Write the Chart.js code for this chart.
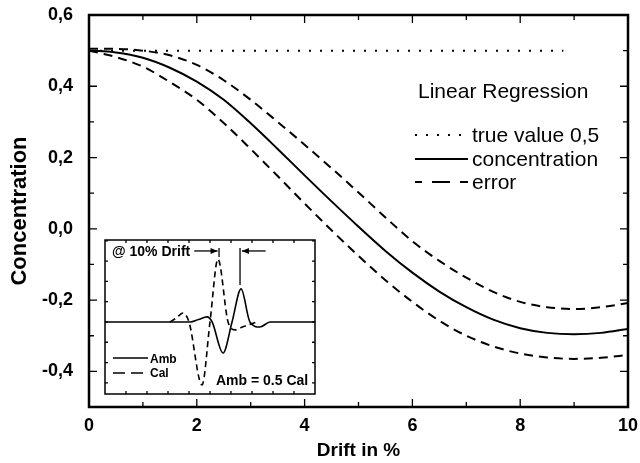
<!DOCTYPE html>
<html lang="en">
<head>
    <meta charset="UTF-8">
    <title>Concentration vs drift</title>
    <script src="https://cdn.jsdelivr.net/npm/chart.js@4.4.1/dist/chart.umd.min.js"></script>
    <style>
        body { margin: 0; background: #fff; }
        #wrap { position: relative; width: 640px; height: 463px; }
        #inset { position: absolute; left: 104px; top: 239px; background: #fff; }
    </style>
</head>
<body>
<div id="wrap">
    <canvas id="myChart" width="640" height="463"></canvas>
    <canvas id="inset" width="212" height="156"></canvas>
</div>
<script>

    // main plot: drift in % vs concentration
    const drift = [0, 0.5, 1, 1.5, 2, 2.5, 3, 3.5, 4, 4.5, 5, 5.5, 6, 6.5, 7, 7.5, 8, 8.5, 9, 9.5, 10];
    const concentration = [0.500, 0.495, 0.480, 0.452, 0.413, 0.362, 0.296, 0.224, 0.150, 0.077, 0.006,
        -0.062, -0.123, -0.176, -0.220, -0.255, -0.279, -0.292, -0.296, -0.292, -0.281];
    const errorUpper = [0.505, 0.505, 0.500, 0.487, 0.460, 0.417, 0.362, 0.300, 0.236, 0.170, 0.102,
        0.032, -0.035, -0.090, -0.137, -0.177, -0.205, -0.220, -0.225, -0.220, -0.208];
    const errorLower = [0.500, 0.482, 0.455, 0.412, 0.362, 0.297, 0.224, 0.148, 0.071, -0.004, -0.076,
        -0.144, -0.205, -0.258, -0.300, -0.330, -0.350, -0.361, -0.365, -0.362, -0.354];
    const trueX = [0, 8.8];
    const trueY = [0.5, 0.5];

    const xTicks = [0, 2, 4, 6, 8, 10];
    const yTicks = [-0.4, -0.2, 0, 0.2, 0.4, 0.6];

    // inset: peak shapes
    const ambX = [0, 40.5, 44.5, 48.6, 51, 56.2, 60.5, 64.8, 69, 73.8, 78.6, 100];
    const ambY = [0, 0, 0.12, 0.25, 0, -1.53, 0, 1.63, 0, -0.25, 0, 0];
    const calX = [31, 34, 37.1, 40, 46.2, 50, 53.8, 58.6, 61.9, 66, 72.4];
    const calY = [0, 0.2, 0.44, 0, -3.1, 0, 3.1, 0, -0.39, -0.22, 0];

    const FONT = "'Liberation Sans', Arial, sans-serif";
    Chart.defaults.font.family = FONT;
    Chart.defaults.color = "#000";

    const pts = (xs, ys) => xs.map((x, i) => ({x: x, y: ys[i]}));

    function frameAndTicks(chart, xMinor, yMinor, majLen, minLen, xMajor, yMajor, lw) {
        const {ctx, chartArea: a, scales: {x, y}} = chart;
        ctx.save();
        ctx.strokeStyle = "#000";
        ctx.lineWidth = 1.3;
        xMinor.forEach(v => {
            const px = x.getPixelForValue(v);
            const len = xMajor(v) ? majLen : minLen;
            ctx.beginPath();
            ctx.moveTo(px, a.bottom); ctx.lineTo(px, a.bottom - len);
            ctx.moveTo(px, a.top); ctx.lineTo(px, a.top + len);
            ctx.stroke();
        });
        yMinor.forEach(v => {
            const py = y.getPixelForValue(v);
            const len = yMajor(v) ? majLen : minLen;
            ctx.beginPath();
            ctx.moveTo(a.left, py); ctx.lineTo(a.left + len, py);
            ctx.moveTo(a.right, py); ctx.lineTo(a.right - len, py);
            ctx.stroke();
        });
        ctx.lineWidth = lw;
        ctx.strokeRect(a.left, a.top, a.right - a.left, a.bottom - a.top);
        ctx.restore();
    }

    const mainDeco = {
        id: "mainDeco",
        afterDraw(chart) {
            const ctx = chart.ctx;
            const xm = [], ym = [];
            for (let i = 0; i <= 10; i++) xm.push(i);
            for (let i = -5; i <= 6; i++) ym.push(i / 10);
            frameAndTicks(chart, xm, ym, 8, 5, v => v % 2 === 0, v => Math.round(v * 10) % 2 === 0, 2.5);

            // legend block
            ctx.save();
            ctx.fillStyle = "#000";
            ctx.textBaseline = "middle";
            ctx.font = "21px " + FONT;
            ctx.fillText("Linear Regression", 418, 92);
            const rows = [
                {y: 135, dash: [2, 9], off: 0, text: "true value 0,5"},
                {y: 159, dash: [], off: 0, text: "concentration"},
                {y: 182, dash: [18, 10], off: 11, text: "error"}
            ];
            rows.forEach(r => {
                ctx.beginPath();
                ctx.lineWidth = 2;
                ctx.setLineDash(r.dash);
                ctx.lineDashOffset = r.off;
                ctx.moveTo(415, r.y); ctx.lineTo(468, r.y);
                ctx.stroke();
                ctx.setLineDash([]);
                ctx.fillText(r.text, 472, r.y + 1);
            });
            ctx.restore();
        }
    };

    const myChart = new Chart("myChart", {
        type: "line",
        data: {
            datasets: [
                {label: "true value 0,5", data: pts(trueX, trueY), borderColor: "#000", borderWidth: 2, borderDash: [2, 9]},
                {label: "concentration", data: pts(drift, concentration), borderColor: "#000", borderWidth: 2},
                {label: "error", data: pts(drift, errorUpper), borderColor: "#000", borderWidth: 2, borderDash: [9, 6]},
                {label: "error", data: pts(drift, errorLower), borderColor: "#000", borderWidth: 2, borderDash: [9, 6]}
            ]
        },
        options: {
            responsive: false,
            animation: false,
            devicePixelRatio: 1,
            cubicInterpolationMode: "monotone",
            elements: {point: {radius: 0}},
            layout: {padding: {left: 0, right: 12, top: 15, bottom: 0}},
            plugins: {legend: {display: false}, tooltip: {enabled: false}},
            scales: {
                x: {
                    type: "linear", min: 0, max: 10,
                    grid: {display: false, drawTicks: false},
                    border: {display: false},
                    afterBuildTicks: s => { s.ticks = xTicks.map(v => ({value: v})); },
                    afterFit: s => { s.height = 56; s.paddingLeft = 0; s.paddingRight = 0; },
                    ticks: {padding: 8, font: {size: 18, weight: "bold"}, maxRotation: 0},
                    title: {display: true, text: "Drift in %", font: {size: 19, weight: "bold"}, padding: {top: 0, bottom: 1}}
                },
                y: {
                    min: -0.5, max: 0.6,
                    grid: {display: false, drawTicks: false},
                    border: {display: false},
                    afterBuildTicks: s => { s.ticks = yTicks.map(v => ({value: v})); },
                    afterFit: s => { s.width = 89; s.paddingTop = 0; s.paddingBottom = 0; },
                    ticks: {padding: 16, font: {size: 18, weight: "bold"},
                        callback: v => v.toFixed(1).replace(".", ",")},
                    title: {display: true, text: "Concentration", font: {size: 22, weight: "bold"}, padding: {top: 7, bottom: 0}}
                }
            }
        },
        plugins: [mainDeco]
    });

    const insetDeco = {
        id: "insetDeco",
        afterDraw(chart) {
            const {ctx, scales: {x, y}} = chart;
            const xm = [], ym = [];
            for (let i = 10; i < 100; i += 10) xm.push(i);
            for (let i = -3; i <= 4; i++) ym.push(i);
            frameAndTicks(chart, xm, ym, 3, 3, () => true, () => true, 1.5);

            ctx.save();
            ctx.strokeStyle = "#000";
            ctx.fillStyle = "#000";
            ctx.lineWidth = 1.3;
            // marker lines above the two maxima
            [[54.3, 3.65, 3.2], [64.3, 3.65, 1.82]].forEach(m => {
                ctx.beginPath();
                ctx.moveTo(x.getPixelForValue(m[0]), y.getPixelForValue(m[1]));
                ctx.lineTo(x.getPixelForValue(m[0]), y.getPixelForValue(m[2]));
                ctx.stroke();
            });
            // arrows
            const ay = y.getPixelForValue(3.5);
            [[42.5, 53.6], [76.5, 65.2]].forEach(a => {
                const x0 = x.getPixelForValue(a[0]), x1 = x.getPixelForValue(a[1]);
                const d = x1 > x0 ? 1 : -1;
                ctx.beginPath();
                ctx.moveTo(x0, ay); ctx.lineTo(x1, ay);
                ctx.stroke();
                ctx.beginPath();
                ctx.moveTo(x1, ay);
                ctx.lineTo(x1 - d * 7, ay - 3);
                ctx.lineTo(x1 - d * 7, ay + 3);
                ctx.closePath();
                ctx.fill();
            });
            ctx.textBaseline = "middle";
            ctx.font = "bold 14px " + FONT;
            ctx.fillText("@ 10% Drift", 8, 13);
            ctx.fillText("Amb = 0.5 Cal", 112, 142);
            // small legend
            ctx.font = "bold 12px " + FONT;
            ctx.lineWidth = 1.6;
            ctx.beginPath();
            ctx.moveTo(9, 119); ctx.lineTo(44, 119);
            ctx.stroke();
            ctx.setLineDash([12, 6]);
            ctx.beginPath();
            ctx.moveTo(9, 134); ctx.lineTo(44, 134);
            ctx.stroke();
            ctx.setLineDash([]);
            ctx.fillText("Amb", 46, 121);
            ctx.fillText("Cal", 46, 135);
            ctx.restore();
        }
    };

    const insetChart = new Chart("inset", {
        type: "line",
        data: {
            datasets: [
                {label: "Amb", data: pts(ambX, ambY), borderColor: "#000", borderWidth: 1.6},
                {label: "Cal", data: pts(calX, calY), borderColor: "#000", borderWidth: 1.6, borderDash: [6, 4]}
            ]
        },
        options: {
            responsive: false,
            animation: false,
            devicePixelRatio: 1,
            cubicInterpolationMode: "monotone",
            elements: {point: {radius: 0}},
            layout: {padding: 1},
            plugins: {legend: {display: false}, tooltip: {enabled: false}},
            scales: {
                x: {type: "linear", min: 0, max: 100, display: false},
                y: {min: -3.55, max: 4.04, display: false}
            }
        },
        plugins: [insetDeco]
    });
</script>
</body>
</html>
